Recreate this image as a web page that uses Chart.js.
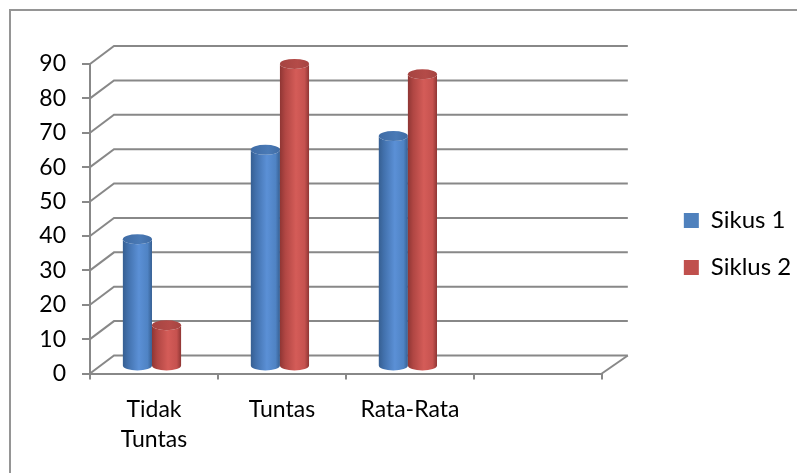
<!DOCTYPE html>
<html>
<head>
<meta charset="utf-8">
<script src="https://cdn.jsdelivr.net/npm/chart.js@4.4.1/dist/chart.umd.min.js"></script>
<style>
  html, body { margin: 0; padding: 0; background: #fff; }
  #wrap { width: 797px; height: 473px; }
</style>
</head>
<body>
<div id="wrap"><canvas id="chart" width="797" height="473"></canvas></div>
<script>
// Categories on the x axis (the fourth slot is left empty)
const categories = [['Tidak', 'Tuntas'], 'Tuntas', 'Rata-Rata', ''];
// Series
const seriesNames = ['Sikus 1', 'Siklus 2'];
const sikus1 = [37, 63, 67, null];
const siklus2 = [12, 88, 85, null];
// Value axis
const yMin = 0;
const yMax = 90;
const yStep = 10;

const FONT = { family: 'Lato, "Open Sans", sans-serif', size: 23, lineHeight: 1.3 };
const LEGEND_FONT = { family: 'Lato, "Open Sans", sans-serif', size: 24 };
const AXIS_GREY = '#888888';

// depth offset of the back wall relative to the front plane
const DEPTH_X = 24;
const DEPTH_Y = -18;
// cylinders stand in the middle of the depth
const BAR_DX = -2;
const BAR_DY = -7;

const palettes = [
  { base: '#4F81BD', edge: '#365f92', dark: '#4271ad', light: '#5b90d6', mid: '#4f83c4', top: '#3f6ba4', topLight: '#4a7ab6' },
  { base: '#C0504D', edge: '#8f3634', dark: '#b04643', light: '#d45c58', mid: '#c6524f', top: '#a54441', topLight: '#b44b48' }
];

function drawCylinder(ctx, cx, top, base, hw, ry, p) {
  const g = ctx.createLinearGradient(cx - hw, 0, cx + hw, 0);
  g.addColorStop(0, p.edge);
  g.addColorStop(0.18, p.dark);
  g.addColorStop(0.55, p.light);
  g.addColorStop(0.85, p.mid);
  g.addColorStop(1, p.edge);
  ctx.fillStyle = g;
  ctx.beginPath();
  ctx.moveTo(cx - hw, top);
  ctx.lineTo(cx - hw, base);
  ctx.ellipse(cx, base, hw, ry, 0, Math.PI, 0, true);
  ctx.lineTo(cx + hw, top);
  ctx.ellipse(cx, top, hw, ry, 0, 0, Math.PI, false);
  ctx.closePath();
  ctx.fill();
  // top cap
  const tg = ctx.createLinearGradient(cx - hw, 0, cx + hw, 0);
  tg.addColorStop(0, p.top);
  tg.addColorStop(0.6, p.topLight);
  tg.addColorStop(1, p.top);
  ctx.fillStyle = tg;
  ctx.beginPath();
  ctx.ellipse(cx, top, hw, ry, 0, 0, Math.PI * 2);
  ctx.fill();
}

const frame3d = {
  id: 'frame3d',
  beforeDraw(chart) {
    const { ctx } = chart;
    ctx.save();
    ctx.fillStyle = '#ffffff';
    ctx.fillRect(0, 0, chart.width, chart.height);
    ctx.strokeStyle = '#959595';
    ctx.lineWidth = 2;
    ctx.strokeRect(10, 10, chart.width + 20, chart.height + 20);
    ctx.restore();
  },
  beforeDatasetsDraw(chart) {
    const { ctx, chartArea: a, scales: { y } } = chart;
    ctx.save();
    ctx.strokeStyle = AXIS_GREY;
    ctx.lineWidth = 2;
    // side wall diagonals and back wall gridlines
    y.ticks.forEach(t => {
      const fy = y.getPixelForValue(t.value);
      ctx.beginPath();
      ctx.moveTo(a.left, fy);
      ctx.lineTo(a.left + DEPTH_X, fy + DEPTH_Y);
      ctx.lineTo(a.right + DEPTH_X + 2, fy + DEPTH_Y);
      ctx.stroke();
    });
    // right edge of the floor
    const fy0 = y.getPixelForValue(yMin);
    ctx.beginPath();
    ctx.moveTo(a.right, fy0);
    ctx.lineTo(a.right + DEPTH_X + 2, fy0 + DEPTH_Y);
    ctx.stroke();
    ctx.restore();
  },
  beforeDatasetDraw() {
    return false;
  },
  afterDatasetsDraw(chart) {
    const { ctx } = chart;
    ctx.save();
    chart.data.datasets.forEach((ds, di) => {
      const meta = chart.getDatasetMeta(di);
      meta.data.forEach((el, i) => {
        if (ds.data[i] == null) return;
        const hw = el.width / 2;
        drawCylinder(ctx, el.x + BAR_DX, el.y + BAR_DY, el.base + BAR_DY, hw, 5, palettes[di]);
      });
    });
    ctx.restore();
  }
};

new Chart(document.getElementById('chart'), {
  type: 'bar',
  data: {
    labels: categories,
    datasets: [
      { label: seriesNames[0], data: sikus1, backgroundColor: palettes[0].base, borderWidth: 0 },
      { label: seriesNames[1], data: siklus2, backgroundColor: palettes[1].base, borderWidth: 0 }
    ]
  },
  options: {
    responsive: false,
    animation: false,
    devicePixelRatio: 1,
    categoryPercentage: 0.455,
    barPercentage: 1,
    layout: { padding: { top: 15, bottom: 0, left: 0, right: 4 } },
    plugins: {
      // empty spacer above the plot only (legend keeps the full height)
      title: {
        display: true,
        text: '',
        fullSize: false,
        font: { size: 12, lineHeight: 1.2 },
        padding: { top: 34.6, bottom: 0 }
      },
      legend: {
        position: 'right',
        align: 'center',
        labels: { boxWidth: 15, boxHeight: 15, padding: 23, color: '#000', font: LEGEND_FONT }
      },
      tooltip: { enabled: false }
    },
    scales: {
      x: {
        afterFit(s) { s.height = 99.5; },
        grid: { offset: true, drawOnChartArea: false, drawTicks: true, tickLength: 6, color: AXIS_GREY, lineWidth: 2 },
        border: { display: true, color: AXIS_GREY, width: 2 },
        ticks: { color: '#000', font: FONT, padding: 15, maxRotation: 0, autoSkip: false }
      },
      y: {
        min: yMin,
        max: yMax,
        afterFit(s) { s.width = 90; },
        grid: { drawOnChartArea: false, drawTicks: true, tickLength: 8, color: AXIS_GREY, lineWidth: 2 },
        border: { display: true, color: AXIS_GREY, width: 2 },
        ticks: { stepSize: yStep, padding: 16, color: '#000', font: FONT }
      },
      gap: {
        type: 'linear',
        axis: 'y',
        position: 'right',
        afterFit(s) { s.width = 59; },
        grid: { display: false },
        border: { display: false },
        ticks: { display: false }
      }
    }
  },
  plugins: [frame3d]
});
</script>
</body>
</html>
